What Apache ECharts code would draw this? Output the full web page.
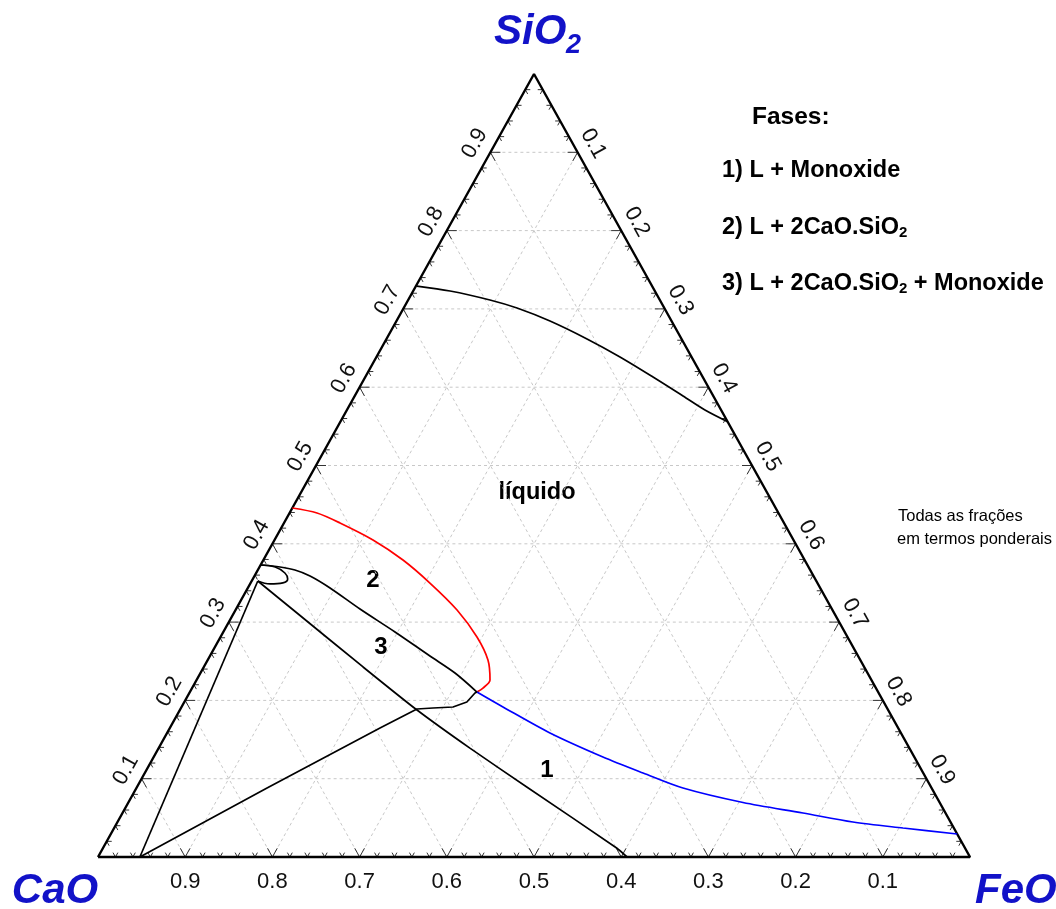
<!DOCTYPE html>
<html>
<head>
<meta charset="utf-8">
<script src="https://cdn.jsdelivr.net/npm/echarts@6/dist/echarts.min.js"></script>
<style>
  html, body { margin: 0; padding: 0; background: #ffffff; }
  #chart { width: 1056px; height: 909px; }
</style>
</head>
<body>
<div id="chart"></div>
<script>
// Compositions are weight fractions written as [FeO, SiO2]; CaO = 1 - FeO - SiO2.

// Liquidus on the silica-rich side
const silicaLiquidus = [
  [0.001, 0.7292], [0.0423, 0.7229], [0.0938, 0.7114], [0.1300, 0.7011], [0.1761, 0.6845],
  [0.2300, 0.6616], [0.2793, 0.6386], [0.3300, 0.6130], [0.3765, 0.5888], [0.4106, 0.5709],
  [0.4440, 0.5560]
];

// Liquidus of 2CaO.SiO2 (red)
const c2sLiquidus = [
  [0.000, 0.4457], [0.0315, 0.4393], [0.0642, 0.4266], [0.1129, 0.4049], [0.1601, 0.3793],
  [0.2057, 0.3499], [0.2540, 0.3155], [0.2941, 0.2810], [0.3214, 0.2516], [0.3365, 0.2261],
  [0.3336, 0.2158], [0.3292, 0.2107]
];

// Liquidus of monoxide (blue)
const monoxideLiquidus = [
  [0.3292, 0.2107], [0.3686, 0.1916], [0.4391, 0.1584], [0.5152, 0.1277], [0.5714, 0.1073],
  [0.6268, 0.0881], [0.7049, 0.0696], [0.7804, 0.0562], [0.8434, 0.0447], [0.9047, 0.0370],
  [0.9706, 0.0294]
];

// Boundary between fields 2 and 3
const boundary23 = [
  [0.000, 0.3729], [0.0235, 0.3704], [0.0426, 0.3665], [0.0637, 0.3589], [0.0943, 0.3436],
  [0.1421, 0.3167], [0.1969, 0.2874], [0.2523, 0.2567], [0.2919, 0.2350], [0.3292, 0.2107]
];

// Small closed field next to the CaO-SiO2 side
const c2sLoop = [
  [0.000, 0.3729], [0.018, 0.3704], [0.033, 0.3627], [0.040, 0.355], [0.037, 0.350],
  [0.023, 0.3487], [0.007, 0.3525]
];

// Steep boundary near the CaO corner
const limeBoundary = [
  [0.007, 0.3525], [0.048, 0.000]
];

// Boundary between fields 3 and 1
const boundary31 = [
  [0.007, 0.3525], [0.0724, 0.3116], [0.1826, 0.2427], [0.2720, 0.1877], [0.3570, 0.1390],
  [0.4470, 0.0894], [0.5890, 0.0115], [0.6067, 0.000]
];

// Boundary from the CaO side up to the three-phase point
const boundaryLower = [
  [0.048, 0.000], [0.1498, 0.0881], [0.2410, 0.1648], [0.2713, 0.1890], [0.2890, 0.1903],
  [0.3113, 0.1916], [0.3240, 0.1980], [0.3276, 0.2094], [0.3292, 0.2107]
];

// Triangle corners: CaO, FeO, SiO2
const corners = [[0, 0], [1, 0], [0, 1], [0, 0]];

// Axis tick values and labels
const gridLevels = [0.1, 0.2, 0.3, 0.4, 0.5, 0.6, 0.7, 0.8, 0.9];
const tickLabels = ['0.1', '0.2', '0.3', '0.4', '0.5', '0.6', '0.7', '0.8', '0.9'];
const minorTickStep = 0.02;

const FONT = '"Liberation Sans", Arial, sans-serif';
const BLUE = '#1212c8';

// ternary [FeO, SiO2] -> cartesian plot coordinates
function toXY(p) { return [p[0] + p[1] / 2, p[1]]; }

function unit(p, q) {
  const dx = q[0] - p[0], dy = q[1] - p[1];
  const L = Math.hypot(dx, dy);
  return [dx / L, dy / L];
}

function arm(p, d, len, style) {
  return {
    type: 'line', silent: true,
    shape: { x1: p[0], y1: p[1], x2: p[0] + d[0] * len, y2: p[1] + d[1] * len },
    style: style
  };
}

function cornersPx(api) {
  return {
    A: api.coord(toXY([0, 0])),   // CaO
    B: api.coord(toXY([1, 0])),   // FeO
    C: api.coord(toXY([0, 1]))    // SiO2
  };
}

// Dashed grid: lines of constant SiO2, FeO and CaO
function renderGrid(params, api) {
  const v = api.value(0);
  const lines = [
    [[0, v], [1 - v, v]],
    [[v, 0], [v, 1 - v]],
    [[1 - v, 0], [0, 1 - v]]
  ];
  const style = { stroke: '#c8c8c8', lineWidth: 1, lineDash: [3, 3] };
  return {
    type: 'group',
    children: lines.map(function (l) {
      const p = api.coord(toXY(l[0])), q = api.coord(toXY(l[1]));
      return { type: 'line', silent: true, shape: { x1: p[0], y1: p[1], x2: q[0], y2: q[1] }, style: style };
    })
  };
}

// Chevron ticks on the three sides
function renderTicks(params, api) {
  const t = api.value(0);
  const major = Math.abs(t * 10 - Math.round(t * 10)) < 1e-6;
  const len = major ? 10 : 5;
  const k = cornersPx(api);
  const style = { stroke: '#333', lineWidth: 1 };
  const pb = api.coord(toXY([t, 0]));
  const pl = api.coord(toXY([0, t]));
  const pr = api.coord(toXY([1 - t, t]));
  return {
    type: 'group',
    children: [
      arm(pb, unit(k.A, k.C), len, style), arm(pb, unit(k.B, k.C), len, style),
      arm(pl, unit(k.A, k.B), len, style), arm(pl, unit(k.C, k.B), len, style),
      arm(pr, unit(k.B, k.A), len, style), arm(pr, unit(k.C, k.A), len, style)
    ]
  };
}

// Tick labels: CaO below, SiO2 on the left side, FeO on the right side
function renderLabels(params, api) {
  const v = api.value(0);
  const text = tickLabels[params.dataIndex];
  const k = cornersPx(api);
  const uL = unit(k.A, k.C), uR = unit(k.C, k.B);
  const nL = [uL[1], -uL[0]], nR = [uR[1], -uR[0]];
  const rotL = Math.atan2(-uL[1], uL[0]);
  const rotR = -Math.atan2(uR[1], uR[0]);
  const off = 18;
  const style = { text: text, font: '22px ' + FONT, fill: '#111', align: 'center', verticalAlign: 'middle' };
  const pb = api.coord(toXY([1 - v, 0]));
  const pl = api.coord(toXY([0, v]));
  const pr = api.coord(toXY([v, 1 - v]));
  return {
    type: 'group',
    children: [
      { type: 'text', silent: true, x: pb[0], y: pb[1] + 25, style: Object.assign({}, style) },
      { type: 'text', silent: true, x: pl[0] + nL[0] * off, y: pl[1] + nL[1] * off, rotation: rotL, style: Object.assign({}, style) },
      { type: 'text', silent: true, x: pr[0] + nR[0] * off, y: pr[1] + nR[1] * off, rotation: rotR, style: Object.assign({}, style) }
    ]
  };
}

const ticks = [];
for (let i = 1; i * minorTickStep < 1 - 1e-9; i++) ticks.push([i * minorTickStep, 0]);

function curve(data, color, smooth) {
  return {
    type: 'line', data: data.map(toXY), symbol: 'none', showSymbol: false,
    smooth: smooth, clip: false, z: 5, silent: true,
    lineStyle: { color: color, width: 1.7 }
  };
}

function label(x, y, text, size) {
  return {
    type: 'text', x: x, y: y, silent: true,
    style: { text: text, font: 'bold ' + size + 'px ' + FONT, fill: '#000', align: 'center', verticalAlign: 'middle' }
  };
}

function legendRich(text, y) {
  return {
    type: 'text', x: 722, y: y, silent: true,
    style: {
      text: text, align: 'left', verticalAlign: 'middle',
      rich: {
        m: { font: 'bold 23.5px ' + FONT, fill: '#000', verticalAlign: 'bottom', lineHeight: 26 },
        s: { font: 'bold 15px ' + FONT, fill: '#000', verticalAlign: 'bottom', lineHeight: 14 }
      }
    }
  };
}

const chart = echarts.init(document.getElementById('chart'), null, { renderer: 'canvas' });
chart.setOption({
  animation: false,
  backgroundColor: '#ffffff',
  grid: { left: 98, top: 74, width: 872, height: 783, containLabel: false },
  xAxis: { type: 'value', min: 0, max: 1, show: false },
  yAxis: { type: 'value', min: 0, max: 1, show: false },
  series: [
    { type: 'custom', renderItem: renderGrid, data: gridLevels.map(function (v) { return [v, 0]; }), z: 1, silent: true },
    { type: 'custom', renderItem: renderTicks, data: ticks, z: 3, silent: true },
    { type: 'custom', renderItem: renderLabels, data: gridLevels.map(function (v) { return [v, 0]; }), z: 3, silent: true },
    {
      type: 'line', data: corners.map(toXY), symbol: 'none', clip: false, z: 4, silent: true,
      lineStyle: { color: '#000', width: 2.4 }
    },
    curve(silicaLiquidus, '#000', 0.3),
    curve(c2sLiquidus, '#ff0000', 0.3),
    curve(monoxideLiquidus, '#0000ff', 0.3),
    curve(boundary23, '#000', 0.3),
    curve(c2sLoop, '#000', 0.4),
    curve(limeBoundary, '#000', false),
    curve(boundary31, '#000', 0.2),
    curve(boundaryLower, '#000', false)
  ],
  graphic: [
    // corner names
    { type: 'text', x: 494, y: 32, silent: true,
      style: { text: 'SiO', font: 'italic bold 42px ' + FONT, fill: BLUE, align: 'left', verticalAlign: 'middle' } },
    { type: 'text', x: 566, y: 46, silent: true,
      style: { text: '2', font: 'italic bold 27px ' + FONT, fill: BLUE, align: 'left', verticalAlign: 'middle' } },
    { type: 'text', x: 55, y: 891, silent: true,
      style: { text: 'CaO', font: 'italic bold 42px ' + FONT, fill: BLUE, align: 'center', verticalAlign: 'middle' } },
    { type: 'text', x: 975, y: 891, silent: true,
      style: { text: 'FeO', font: 'italic bold 42px ' + FONT, fill: BLUE, align: 'left', verticalAlign: 'middle' } },

    // phase list
    { type: 'text', x: 752, y: 117, silent: true,
      style: { text: 'Fases:', font: 'bold 24.5px ' + FONT, fill: '#000', align: 'left', verticalAlign: 'middle' } },
    legendRich('{m|1) L + Monoxide}', 170),
    legendRich('{m|2) L + 2CaO.SiO}{s|2}', 227),
    legendRich('{m|3) L + 2CaO.SiO}{s|2}{m| + Monoxide}', 283),

    // note
    { type: 'text', x: 898, y: 516, silent: true,
      style: { text: 'Todas as frações', font: '16.5px ' + FONT, fill: '#000', align: 'left', verticalAlign: 'middle' } },
    { type: 'text', x: 897, y: 539, silent: true,
      style: { text: 'em termos ponderais', font: '16.5px ' + FONT, fill: '#000', align: 'left', verticalAlign: 'middle' } },

    // field names
    label(537, 493, 'líquido', 23.5),
    label(373, 580, '2', 24),
    label(381, 647, '3', 24),
    label(547, 770, '1', 24)
  ]
});
</script>
</body>
</html>
